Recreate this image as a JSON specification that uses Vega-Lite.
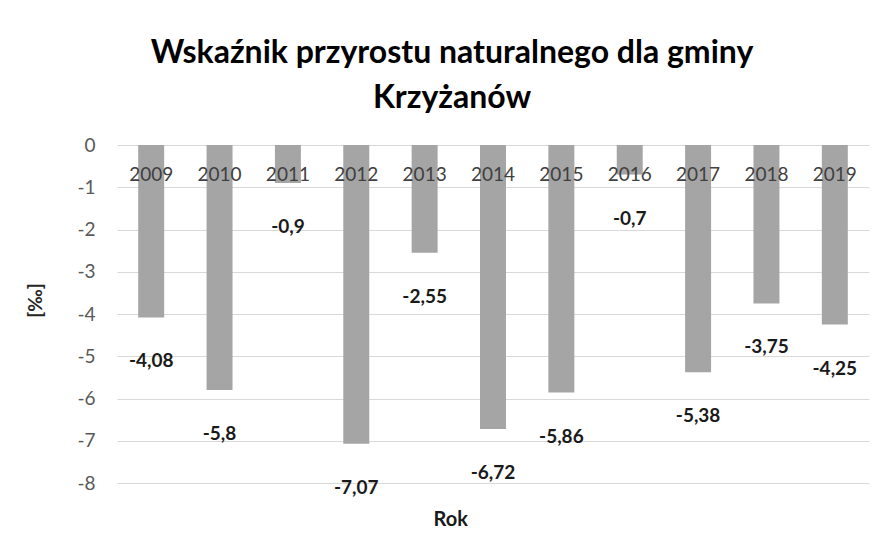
{
  "$schema": "https://vega.github.io/schema/vega-lite/v6.json",
  "width": 752,
  "height": 338,
  "autosize": {"type": "none"},
  "padding": {"left": 117, "top": 145, "right": 14, "bottom": 60},
  "background": "white",
  "config": {
    "locale": {"number": {"decimal": ",", "thousands": " ", "grouping": [3], "currency": ["", " zł"], "minus": "-"}},
    "view": {"stroke": null},
    "font": "Lato"
  },
  "title": {
    "text": ["Wskaźnik przyrostu naturalnego dla gminy", "Krzyżanów"],
    "font": "Lato",
    "fontSize": 32,
    "fontWeight": "bold",
    "color": "#000000",
    "anchor": "middle",
    "frame": "group",
    "dx": -41,
    "lineHeight": 45,
    "offset": 21
  },
  "data": {
    "values": [
      {"rok": "2009", "wartosc": -4.08},
      {"rok": "2010", "wartosc": -5.8},
      {"rok": "2011", "wartosc": -0.9},
      {"rok": "2012", "wartosc": -7.07},
      {"rok": "2013", "wartosc": -2.55},
      {"rok": "2014", "wartosc": -6.72},
      {"rok": "2015", "wartosc": -5.86},
      {"rok": "2016", "wartosc": -0.7},
      {"rok": "2017", "wartosc": -5.38},
      {"rok": "2018", "wartosc": -3.75},
      {"rok": "2019", "wartosc": -4.25}
    ]
  },
  "encoding": {
    "x": {
      "field": "rok",
      "type": "nominal",
      "scale": {"paddingInner": 0.62, "paddingOuter": 0.31},
      "axis": {
        "orient": "bottom",
        "labels": false,
        "ticks": false,
        "domain": false,
        "title": "Rok",
        "titleFont": "Lato",
        "titleFontSize": 20,
        "titleFontWeight": "bold",
        "titleColor": "#1a1a1a",
        "titleAnchor": "start",
        "titleX": 316,
        "titleY": 26,
        "titleBaseline": "top"
      }
    }
  },
  "layer": [
    {
      "mark": {"type": "bar", "color": "#a5a5a5"},
      "encoding": {
        "y": {
          "field": "wartosc",
          "type": "quantitative",
          "scale": {"domain": [-8, 0], "nice": false, "zero": true},
          "axis": {
            "values": [0, -1, -2, -3, -4, -5, -6, -7, -8],
            "grid": true,
            "gridColor": "#d9d9d9",
            "gridWidth": 1,
            "domain": false,
            "ticks": false,
            "labelPadding": 22,
            "labelFont": "Lato",
            "labelFontSize": 19,
            "labelColor": "#595959",
            "format": "d",
            "title": "[‰]",
            "titleFont": "Lato",
            "titleFontSize": 19,
            "titleFontWeight": "bold",
            "titleColor": "#262626",
            "titleX": -82,
            "titleY": 155,
            "titleAngle": -90,
            "titleAnchor": "middle",
            "titleBaseline": "middle"
          }
        }
      }
    },
    {
      "mark": {"type": "text", "fontSize": 19, "color": "#404040", "font": "Lato", "dy": 30, "baseline": "middle"},
      "encoding": {
        "y": {"datum": 0},
        "text": {"field": "rok", "type": "nominal"}
      }
    },
    {
      "mark": {"type": "text", "fontSize": 19, "fontWeight": "bold", "color": "#1a1a1a", "font": "Lato", "dy": 44, "baseline": "middle"},
      "encoding": {
        "y": {"field": "wartosc", "type": "quantitative"},
        "text": {"field": "wartosc", "type": "quantitative", "format": "~g"}
      }
    }
  ]
}
